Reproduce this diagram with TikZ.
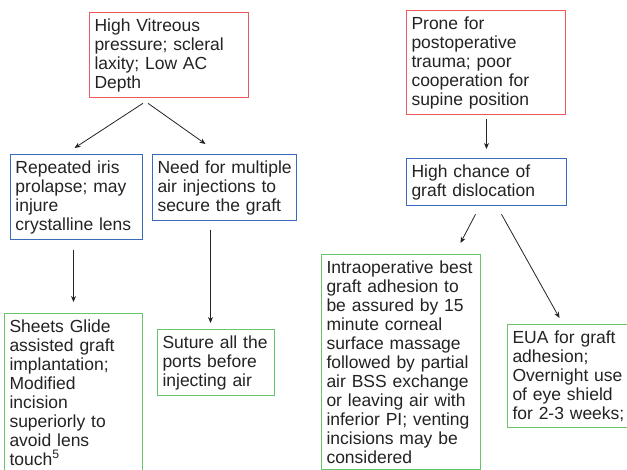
\documentclass[tikz,border=0pt]{standalone}
\usepackage{fontspec}
\setmainfont{Liberation Sans}
\usetikzlibrary{arrows.meta,positioning}
\definecolor{riskred}{RGB}{238,88,88}
\definecolor{effectblue}{RGB}{58,106,186}
\definecolor{remedygreen}{RGB}{102,198,110}
\definecolor{inkgray}{RGB}{35,35,35}

\begin{document}
\begin{tikzpicture}[x=1pt, y=-1pt, font=\fontsize{17.5}{19}\selectfont,
    box/.style={draw, line width=1pt, fill=white, text=inkgray, anchor=north west,
                align=left, inner xsep=5pt, inner ysep=6pt},
    risk/.style={box, draw=riskred},
    effect/.style={box, draw=effectblue},
    remedy/.style={box, draw=remedygreen},
    link/.style={-{Stealth[length=6pt,width=5pt]}, line width=0.8pt, draw=inkgray}]
  \useasboundingbox (0,0) rectangle (627,470);
  \clip (0,0) rectangle (627,470);
  \node[risk, text width=149pt] (vitreous) at (89,12) {
    High Vitreous\\pressure; scleral\\laxity; Low AC\\Depth};
  \node[risk, text width=149pt] (prone) at (406,10) {
    Prone for\\postoperative\\trauma; poor\\cooperation for\\supine position};
  \node[effect, text width=122pt] (prolapse) at (10,154) {
    Repeated iris\\prolapse; may\\injure\\crystalline lens};
  \node[effect, text width=134pt] (injections) at (152,154) {
    \mbox{Need for multiple}\\air injections to\\secure the graft};
  \node[effect, text width=150pt] (dislocation) at (406,158) {
    High chance of\\graft dislocation};
  \node[remedy, text width=128pt] (glide) at (4,313) {
    Sheets Glide\\assisted graft\\implantation;\\Modified\\incision\\superiorly to\\avoid lens\\touch\textsuperscript{5}};
  \node[remedy, text width=107pt] (suture) at (157,329) {
    Suture all the\\ports before\\injecting air};
  \node[remedy, text width=149pt] (massage) at (321,254) {
    Intraoperative best\\graft adhesion to\\be assured by 15\\minute corneal\\surface massage\\followed by partial\\air BSS exchange\\or leaving air with\\inferior PI; venting\\incisions may be\\considered};
  \node[remedy, text width=115pt] (shield) at (507,324) {
    EUA for graft\\adhesion;\\Overnight use\\of eye shield\\for 2-3 weeks;};
  \draw[link] ([xshift=-26pt,yshift=-5pt]vitreous.south) -- ([xshift=-2pt,yshift=6pt]prolapse.north);
  \draw[link] ([xshift=-21pt,yshift=-5pt]vitreous.south) -- ([xshift=-19pt,yshift=10pt]injections.north);
  \draw[link] ([xshift=0.5pt,yshift=-4pt]prone.south) -- ([yshift=9pt]dislocation.north);
  \draw[link] ([xshift=-11pt,yshift=-8pt]dislocation.south) -- ([xshift=59.5pt,yshift=11pt]massage.north);
  \draw[link] ([xshift=15pt,yshift=-8pt]dislocation.south) -- ([xshift=-10.5pt,yshift=6pt]shield.north);
  \draw[link] ([xshift=-3pt,yshift=-10pt]prolapse.south) -- ([yshift=11pt]glide.north);
  \draw[link] ([xshift=-14pt,yshift=-9pt]injections.south) -- ([xshift=-5.5pt,yshift=6pt]suture.north);
\end{tikzpicture}
\end{document}
